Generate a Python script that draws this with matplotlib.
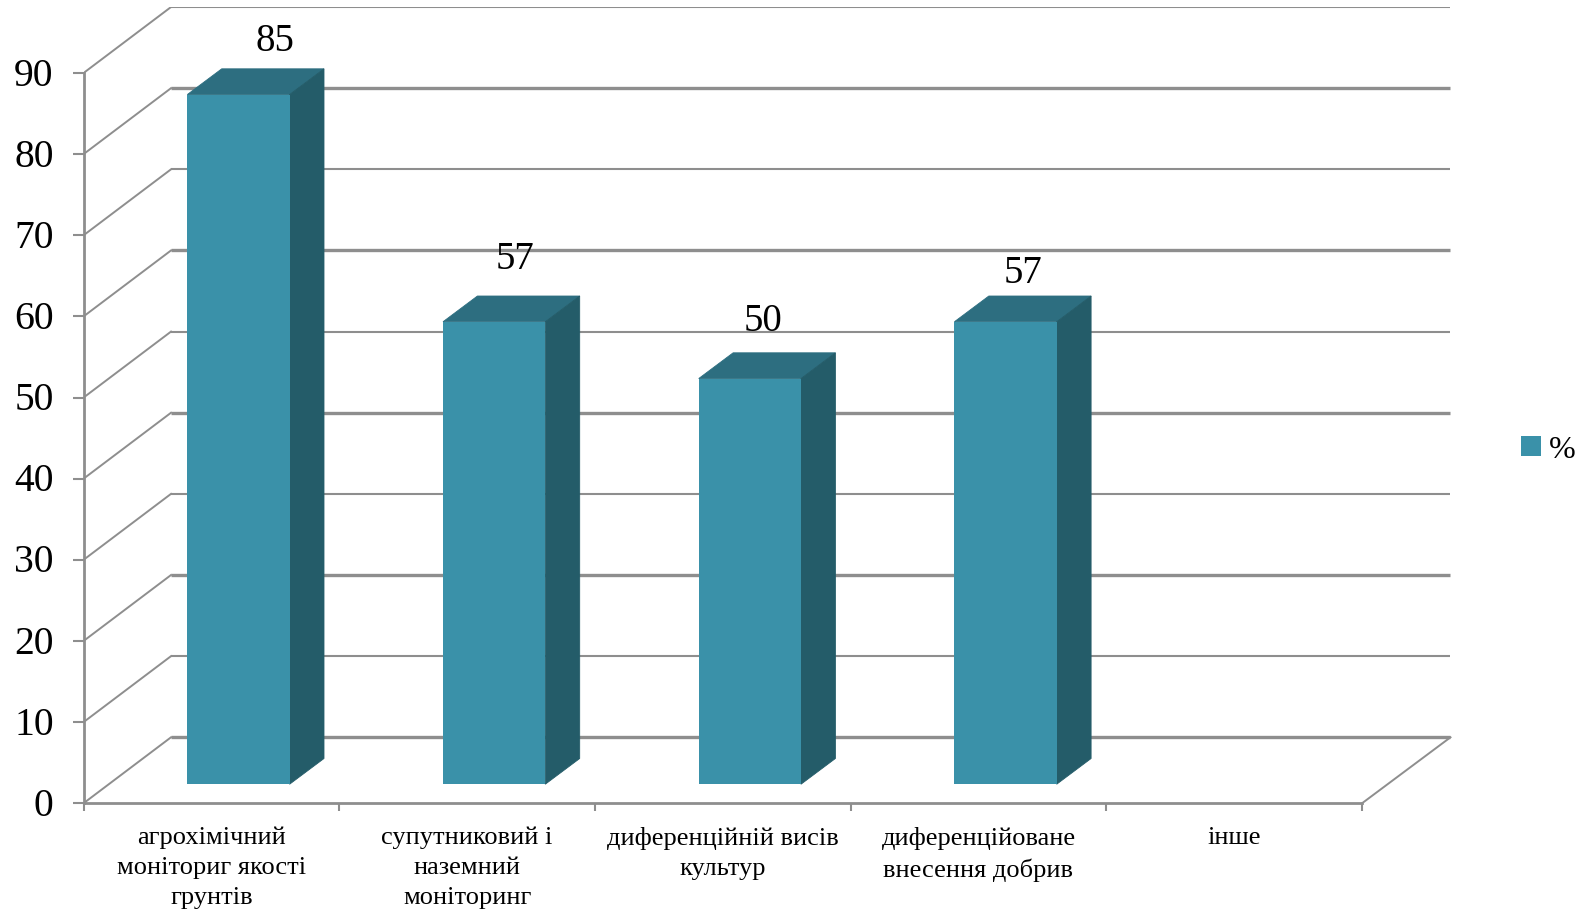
import matplotlib
matplotlib.use('Agg')
import matplotlib.pyplot as plt
from matplotlib.patches import Patch
from matplotlib.transforms import ScaledTranslation

plt.rcParams['font.family'] = ['Liberation Serif', 'DejaVu Serif']

categories = [
    'агрохімічний\nмоніториг якості\nгрунтів',
    'супутниковий і\nназемний\nмоніторинг',
    'диференційній висів\nкультур',
    'диференційоване\nвнесення добрив',
    'інше',
]
values = [85, 57, 50, 57, 0]
y_ticks = [0, 10, 20, 30, 40, 50, 60, 70, 80, 90]
series_name = '%'

FRONT = '#3A91A9'
TOP = '#2D6E80'
SIDE = '#245C69'
GREY = '#8E8E8E'

W, H = 1590, 912
x0_px, x1_px = 83.5, 1456
y0_px, y1_px = 804.3, 8
px_per_cat = 255.7
px_per_val = 8.114

# depth of the fake 3d box, in data units
depth_x = 87.5 / px_per_cat
depth_x_right = 88.5 / px_per_cat
depth_y = 66 / px_per_val
# bars sit a bit into the box
bar_dx = 0.106
bar_dy = 2.35
side_dx = 34.4 / px_per_cat
side_dy = 3.17
bar_w = 0.4

fig = plt.figure(figsize=(W / 100, H / 100), dpi=100)
ax = fig.add_axes([x0_px / W, 1 - y0_px / H, (x1_px - x0_px) / W, (y0_px - y1_px) / H])
ax.set_xlim(0, (x1_px - x0_px) / px_per_cat)
ax.set_ylim(0, (y0_px - y1_px) / px_per_val)
n = len(categories)

# back wall lines + slanted lines on the left wall
for i, t in enumerate(y_ticks):
    lw = 2.4 if i % 2 == 0 else 1.5
    ax.plot([depth_x, n + depth_x_right], [t + depth_y, t + depth_y], color=GREY, lw=lw, zorder=1,
            solid_capstyle='butt')
    ax.plot([0, depth_x], [t, t + depth_y], color=GREY, lw=1.4, zorder=1)
# floor edge on the right
ax.plot([n, n + depth_x_right], [0, depth_y], color=GREY, lw=1.4, zorder=1)

# bars: front from ax.bar, top and side as polygons
centers = [i + 0.5 + bar_dx for i in range(n)]
for c, v in zip(centers, values):
    if v == 0:
        continue
    left, right = c - bar_w / 2, c + bar_w / 2
    low, high = bar_dy, bar_dy + v
    ax.fill([left, right, right + side_dx, left + side_dx],
            [high, high, high + side_dy, high + side_dy], color=TOP, lw=0.6, zorder=3)
    ax.fill([right, right + side_dx, right + side_dx, right],
            [low, low + side_dy, high + side_dy, high], color=SIDE, lw=0.6, zorder=3)
    ax.bar(c, v, width=bar_w, bottom=low, color=FRONT, zorder=4)

# value labels were moved by hand in the original
label_offsets = [(36, 54), (21, 63.5), (13, 58), (17.5, 49)]
for c, v, off in zip(centers, values, label_offsets):
    ax.annotate(str(v), (c, bar_dy + v), xytext=(off[0] * 0.72, off[1] * 0.72),
                textcoords='offset points', ha='center', va='center', fontsize=28, color='black')

for name in ['top', 'right']:
    ax.spines[name].set_visible(False)
ax.spines['left'].set_bounds(0, 90)
ax.spines['bottom'].set_bounds(0, n)
for name in ['left', 'bottom']:
    ax.spines[name].set_color(GREY)
    ax.spines[name].set_linewidth(2.0)

ax.set_yticks(y_ticks)
ax.tick_params(axis='y', length=8, width=1.5, color=GREY, labelsize=28.5, pad=13.5)
# numbers sit slightly above their ticks in the reference
nudge = ScaledTranslation(0, 2.5 / 100, fig.dpi_scale_trans)
for lbl in ax.get_yticklabels():
    lbl.set_transform(lbl.get_transform() + nudge)
ax.set_xticks(range(n + 1))
ax.set_xticklabels([])
ax.tick_params(axis='x', which='major', length=6, width=1.5, color=GREY)
ax.set_xticks([i + 0.5 for i in range(n)], minor=True)
ax.set_xticklabels(categories, minor=True, fontsize=19, linespacing=1.47)
ax.tick_params(axis='x', which='minor', length=0, pad=16)

handle = Patch(facecolor=FRONT, edgecolor='none', label=series_name)
fig.legend(handles=[handle], loc='center left', bbox_to_anchor=(1515 / W, 1 - 451 / H), frameon=False,
           fontsize=23, handlelength=0.6, handleheight=0.6, handletextpad=0.25,
           borderpad=0.2, borderaxespad=0)

fig.savefig('out.png', dpi=100)
